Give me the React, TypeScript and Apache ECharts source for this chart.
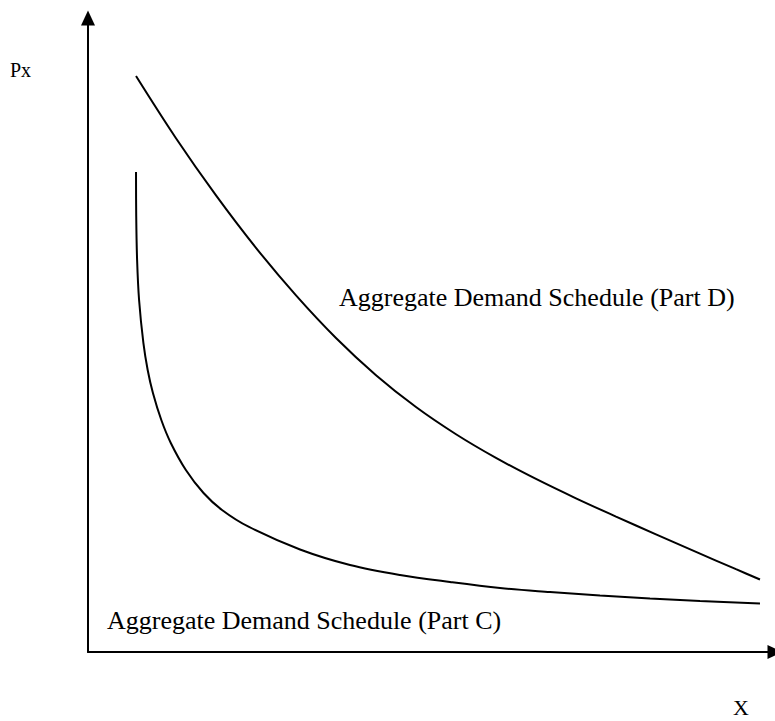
import React, { useEffect, useRef } from "react";
import * as echarts from "echarts";

// Aggregate Demand Schedule (Part D): X values and Px values
const partDX = [7.04, 12.9, 18.77, 24.63, 30.5, 36.36, 42.23, 48.09, 53.96, 59.82, 65.69, 71.55, 77.42, 83.28, 89.15, 95.01, 98.53];
const partDY = [90.85, 81.04, 72.02, 63.75, 56.25, 49.53, 43.66, 38.64, 34.35, 30.62, 27.29, 24.24, 21.36, 18.55, 15.79, 13.06, 11.44];

// Aggregate Demand Schedule (Part C): X values and Px values
const partCX = [7.04, 7.07, 7.2, 7.49, 8.12, 8.75, 9.52, 10.75, 12.14, 14.35, 16.94, 19.65, 23.61, 31.09, 38.42, 45.75, 53.08, 60.41, 67.74, 75.07, 82.4, 89.74, 98.53];
const partCY = [75.71, 68.77, 61.83, 55.52, 48.74, 44.48, 40.85, 36.59, 32.97, 28.71, 25.08, 22.4, 19.72, 16.17, 13.72, 12.15, 11.04, 10.09, 9.46, 8.91, 8.44, 8.04, 7.65];

const labelD = "Aggregate Demand Schedule (Part D)";
const labelC = "Aggregate Demand Schedule (Part C)";
const yName = "Px";
const xName = "X";

const FONT = "'Liberation Serif', 'Times New Roman', serif";

export default function App() {
  const ref = useRef<HTMLDivElement>(null);
  useEffect(() => {
    document.body.style.margin = "0";
    const chart = echarts.init(ref.current!, null, { renderer: "svg" });
    const hidden = {
      axisTick: { show: false },
      axisLabel: { show: false },
      splitLine: { show: false },
    };
    chart.setOption({
      animation: false,
      backgroundColor: "#fff",
      grid: { left: 88, right: 5, top: 18, bottom: 69 },
      xAxis: {
        type: "value",
        min: 0,
        max: 100,
        axisLine: {
          show: true,
          symbol: ["none", "triangle"],
          symbolSize: [14, 15],
          symbolOffset: [0, 5],
          lineStyle: { color: "#000", width: 2 },
        },
        ...hidden,
      },
      yAxis: {
        type: "value",
        min: 0,
        max: 100,
        axisLine: {
          show: true,
          symbol: ["none", "triangle"],
          symbolSize: [14, 15],
          symbolOffset: [0, 0],
          lineStyle: { color: "#000", width: 2 },
        },
        ...hidden,
      },
      series: [
        {
          type: "line",
          name: labelD,
          data: partDX.map((x, i) => [x, partDY[i]]),
          smooth: 0.35,
          symbol: "none",
          lineStyle: { color: "#000", width: 2 },
        },
        {
          type: "line",
          name: labelC,
          data: partCX.map((x, i) => [x, partCY[i]]),
          smooth: 0.35,
          symbol: "none",
          lineStyle: { color: "#000", width: 2 },
        },
      ],
      graphic: [
        {
          type: "text",
          left: 10,
          top: 60,
          style: { text: yName, font: `20px ${FONT}`, fill: "#000" },
        },
        {
          type: "text",
          left: 733,
          top: 696,
          style: { text: xName, font: `22px ${FONT}`, fill: "#000" },
        },
        {
          type: "text",
          left: 339,
          top: 284,
          style: { text: labelD, font: `26px ${FONT}`, fill: "#000" },
        },
        {
          type: "text",
          left: 107,
          top: 607,
          style: { text: labelC, font: `26px ${FONT}`, fill: "#000" },
        },
      ],
    });
    return () => chart.dispose();
  }, []);
  return <div ref={ref} style={{ width: 775, height: 721 }} />;
}
